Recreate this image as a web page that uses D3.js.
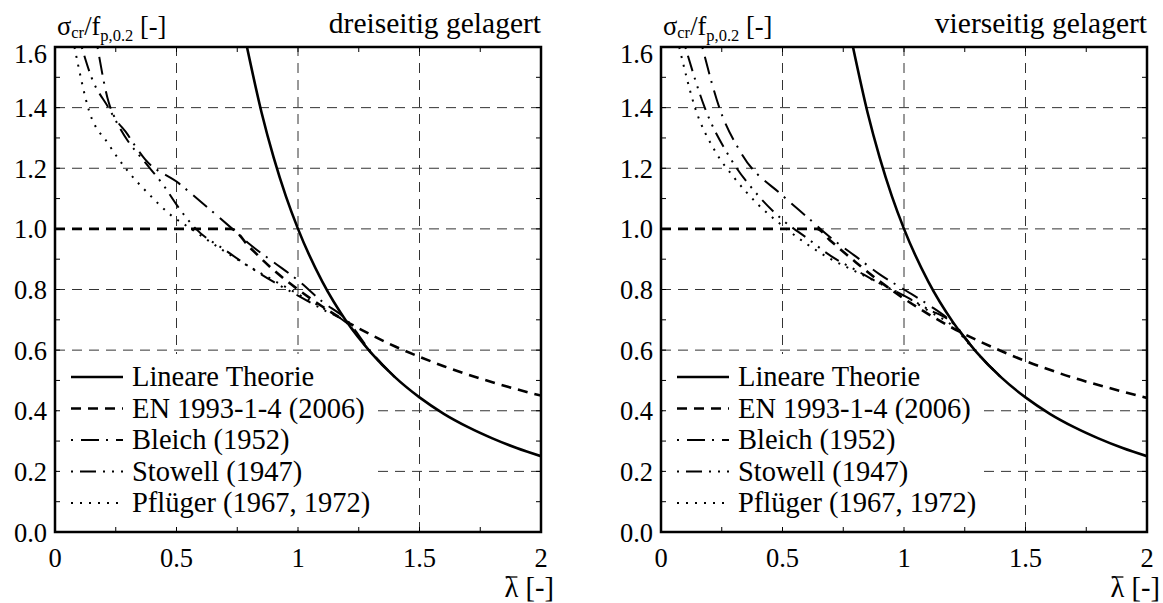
<!DOCTYPE html>
<html>
<head>
<meta charset="utf-8">
<script src="https://cdn.jsdelivr.net/npm/d3@7"></script>
<style>
  body { margin: 0; background: #fff; }
</style>
</head>
<body>
<svg id="chart" width="1163" height="603"></svg>
<script>
// ---- data ----
const xTickVals = [0, 0.5, 1, 1.5, 2];
const xTickLabels = ["0", "0.5", "1", "1.5", "2"];
const yTickVals = [0, 0.2, 0.4, 0.6, 0.8, 1.0, 1.2, 1.4, 1.6];
const yTickLabels = ["0.0", "0.2", "0.4", "0.6", "0.8", "1.0", "1.2", "1.4", "1.6"];
const seriesNames = ["Lineare Theorie", "EN 1993-1-4 (2006)", "Bleich (1952)", "Stowell (1947)", "Pflüger (1967, 1972)"];
const panelTitles = ["dreiseitig gelagert", "vierseitig gelagert"];

// lambda / value pairs
const linearTheory = [[0.79,1.6],[0.85,1.384],[0.9,1.235],[0.95,1.108],[1.0,1.0],[1.1,0.826],[1.2,0.694],[1.3,0.592],[1.4,0.51],[1.5,0.444],[1.6,0.39],[1.7,0.346],[1.8,0.309],[1.9,0.277],[2.0,0.25]];

// dreiseitig gelagert
const en3 = [[0,1.0],[0.724,1.0],[0.8,0.94],[0.9,0.864],[1.0,0.80],[1.1,0.744],[1.2,0.694],[1.3,0.651],[1.4,0.612],[1.5,0.578],[1.6,0.547],[1.7,0.519],[1.8,0.494],[1.9,0.471],[2.0,0.45]];
const bleich3 = [[0.175,1.6],[0.22,1.42],[0.3,1.31],[0.37,1.23],[0.51,1.15],[0.57,1.11],[0.73,1.0],[0.8,0.95],[0.9,0.89],[1.0,0.83],[1.1,0.76],[1.2,0.70],[1.3,0.595],[1.4,0.51]];
const stowell3 = [[0.11,1.6],[0.15,1.5],[0.22,1.40],[0.3,1.29],[0.37,1.22],[0.45,1.14],[0.5,1.08],[0.58,1.0],[0.7,0.93],[0.8,0.875],[0.9,0.825],[1.0,0.78],[1.1,0.735],[1.2,0.69],[1.3,0.592],[1.4,0.51]];
const pflueger3 = [[0.08,1.6],[0.14,1.39],[0.22,1.28],[0.3,1.19],[0.38,1.12],[0.47,1.05],[0.56,1.0],[0.69,0.93],[0.8,0.875],[0.9,0.83],[1.0,0.785],[1.1,0.74],[1.2,0.69],[1.3,0.592],[1.4,0.51]];

// vierseitig gelagert
const en4 = [[0,1.0],[0.64,1.0],[0.7,0.959],[0.8,0.891],[0.9,0.827],[1.0,0.77],[1.1,0.719],[1.2,0.673],[1.3,0.633],[1.4,0.597],[1.5,0.564],[1.6,0.535],[1.7,0.508],[1.8,0.485],[1.9,0.463],[2.0,0.4425]];
const bleich4 = [[0.17,1.6],[0.24,1.4],[0.33,1.25],[0.5,1.11],[0.6,1.04],[0.7,0.97],[0.8,0.91],[0.9,0.85],[1.0,0.80],[1.1,0.75],[1.2,0.69],[1.3,0.592],[1.4,0.51]];
const stowell4 = [[0.1,1.6],[0.18,1.4],[0.28,1.24],[0.4,1.11],[0.5,1.03],[0.6,0.97],[0.7,0.91],[0.8,0.865],[0.9,0.82],[1.0,0.78],[1.1,0.735],[1.2,0.69],[1.3,0.592],[1.4,0.51]];
const pflueger4 = [[0.075,1.6],[0.14,1.4],[0.22,1.26],[0.3,1.17],[0.4,1.08],[0.5,1.01],[0.6,0.95],[0.7,0.9],[0.8,0.86],[0.9,0.82],[1.0,0.78],[1.1,0.73],[1.2,0.68],[1.3,0.59],[1.4,0.51]];

const panels = [
  { title: panelTitles[0], left: 55, series: [linearTheory, en3, bleich3, stowell3, pflueger3] },
  { title: panelTitles[1], left: 661, series: [linearTheory, en4, bleich4, stowell4, pflueger4] }
];

// line styles per series
const lineStyle = [
  { dash: null, w: 2.6 },
  { dash: "10,7", w: 2.6 },
  { dash: "2,8,18,7", w: 2 },
  { dash: "2,7,16,7,2,7", w: 2 },
  { dash: "2,7", w: 2 }
];

const FONT = "Liberation Serif";
const plotW = 486, plotTop = 47, plotBottom = 532;
const svg = d3.select("#chart");

panels.forEach((p, pi) => {
  const x = d3.scaleLinear().domain([0, 2]).range([p.left, p.left + plotW]);
  const y = d3.scaleLinear().domain([0, 1.6]).range([plotBottom, plotTop]);
  const g = svg.append("g");

  const clipId = "clip" + pi;
  g.append("clipPath").attr("id", clipId)
    .append("rect").attr("x", x(0)).attr("y", y(1.6)).attr("width", x(2) - x(0)).attr("height", y(0) - y(1.6));

  // grid
  g.append("g").selectAll("line").data(yTickVals.filter(v => v > 0 && v < 1.6)).join("line")
    .attr("x1", x(0)).attr("x2", x(2)).attr("y1", d => y(d)).attr("y2", d => y(d))
    .attr("stroke", "#333").attr("stroke-width", 1).attr("stroke-dasharray", "10,7");
  g.append("g").selectAll("line").data(xTickVals.filter(v => v > 0 && v < 2)).join("line")
    .attr("y1", y(0)).attr("y2", y(1.6)).attr("x1", d => x(d)).attr("x2", d => x(d))
    .attr("stroke", "#333").attr("stroke-width", 1).attr("stroke-dasharray", "10,7");

  // legend background
  g.append("rect").attr("x", x(0) + 2).attr("y", 354).attr("width", 321).attr("height", 176).attr("fill", "#fff");

  // curves
  const line = d3.line().x(d => x(d[0])).y(d => y(d[1])).curve(d3.curveMonotoneX);
  g.append("g").attr("clip-path", `url(#${clipId})`)
    .selectAll("path").data(p.series).join("path")
    .attr("d", line)
    .attr("fill", "none")
    .attr("stroke", "#000")
    .attr("stroke-width", (d, i) => lineStyle[i].w)
    .attr("stroke-dasharray", (d, i) => lineStyle[i].dash);

  // minor/major ticks inside the frame
  const xt = d3.range(0, 2.001, 0.25);
  const yt = d3.range(0, 1.601, 0.1);
  const ticks = g.append("g").attr("stroke", "#000").attr("stroke-width", 1);
  xt.forEach(v => {
    ticks.append("line").attr("x1", x(v)).attr("x2", x(v)).attr("y1", y(0)).attr("y2", y(0) - 5);
    ticks.append("line").attr("x1", x(v)).attr("x2", x(v)).attr("y1", y(1.6)).attr("y2", y(1.6) + 5);
  });
  yt.forEach(v => {
    ticks.append("line").attr("y1", y(v)).attr("y2", y(v)).attr("x1", x(0)).attr("x2", x(0) + 5);
    ticks.append("line").attr("y1", y(v)).attr("y2", y(v)).attr("x1", x(2)).attr("x2", x(2) - 5);
  });

  // frame
  g.append("rect").attr("x", x(0)).attr("y", y(1.6)).attr("width", x(2) - x(0)).attr("height", y(0) - y(1.6))
    .attr("fill", "none").attr("stroke", "#000").attr("stroke-width", 2.5);

  // tick labels
  g.append("g").selectAll("text").data(xTickVals).join("text")
    .attr("x", d => x(d)).attr("y", 567).attr("text-anchor", "middle")
    .attr("font-family", FONT).attr("font-size", 26.5)
    .text((d, i) => xTickLabels[i]);
  g.append("g").selectAll("text").data(yTickVals).join("text")
    .attr("x", x(0) - 8).attr("y", d => Math.max(y(d) + 9.5, plotTop + 16)).attr("text-anchor", "end")
    .attr("font-family", FONT).attr("font-size", 26.5)
    .text((d, i) => yTickLabels[i]);

  // title
  g.append("text").attr("x", x(2)).attr("y", 33).attr("text-anchor", "end")
    .attr("font-family", FONT).attr("font-size", 29.5).text(p.title);

  // y label
  const yl = g.append("text").attr("x", x(0) + 2).attr("y", 35).attr("font-family", FONT).attr("font-size", 26.5);
  yl.append("tspan").text("σ");
  yl.append("tspan").attr("dy", 3).attr("font-size", 16.5).text("cr");
  yl.append("tspan").attr("dy", -3).text("/f");
  yl.append("tspan").attr("dy", 6).attr("font-size", 16.5).text("p,0.2");
  yl.append("tspan").attr("dy", -6).text(" [-]");

  // x label with bar over lambda
  const xl = g.append("text").attr("x", x(2) + 13).attr("y", 597).attr("text-anchor", "end")
    .attr("font-family", FONT).attr("font-size", 28.5).text("λ [-]");
  const n = xl.node();
  const s = n.getStartPositionOfChar(0), e = n.getEndPositionOfChar(0);
  g.append("line").attr("x1", s.x + 1).attr("x2", e.x - 1).attr("y1", 577).attr("y2", 577)
    .attr("stroke", "#000").attr("stroke-width", 1.3);

  // legend
  const lg = g.append("g");
  seriesNames.forEach((name, i) => {
    const cy = 377 + i * 31.5;
    lg.append("line").attr("x1", x(0) + 16).attr("x2", x(0) + 68).attr("y1", cy).attr("y2", cy)
      .attr("stroke", "#000").attr("stroke-width", lineStyle[i].w).attr("stroke-dasharray", lineStyle[i].dash);
    lg.append("text").attr("x", x(0) + 77).attr("y", cy + 9)
      .attr("font-family", FONT).attr("font-size", 28.5).text(name);
  });
});
</script>
</body>
</html>
